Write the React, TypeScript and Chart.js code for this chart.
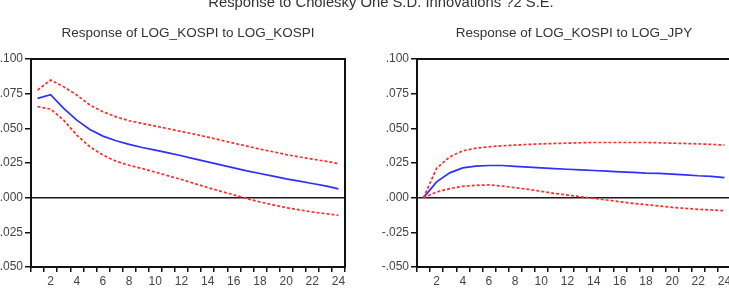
import React, { useEffect, useRef } from "react";
import { Chart, registerables } from "chart.js";

Chart.register(...registerables);

const periods = ["1","2","3","4","5","6","7","8","9","10","11","12","13","14","15","16","17","18","19","20","21","22","23","24"];

const kospiResp = [0.0716,0.0742,0.0644,0.0559,0.0492,0.0444,0.0410,0.0384,0.0362,0.0343,0.0323,0.0302,0.0280,0.0258,0.0237,0.0215,0.0193,0.0174,0.0155,0.0135,0.0119,0.0102,0.0085,0.0063];
const kospiUpper = [0.0776,0.0848,0.0800,0.0740,0.0668,0.0620,0.0583,0.0555,0.0535,0.0516,0.0497,0.0477,0.0458,0.0437,0.0415,0.0393,0.0372,0.0350,0.0331,0.0311,0.0294,0.0278,0.0263,0.0246];
const kospiLower = [0.0656,0.0639,0.0559,0.0451,0.0367,0.0307,0.0263,0.0234,0.0210,0.0184,0.0157,0.0131,0.0102,0.0073,0.0046,0.0020,-0.0007,-0.0031,-0.0052,-0.0072,-0.0088,-0.0103,-0.0115,-0.0127];

const jpyResp = [0.0000,0.0114,0.0179,0.0215,0.0227,0.0232,0.0232,0.0225,0.0220,0.0215,0.0210,0.0205,0.0201,0.0196,0.0191,0.0186,0.0182,0.0177,0.0175,0.0170,0.0165,0.0158,0.0154,0.0145];
const jpyUpper = [0.0000,0.0212,0.0294,0.0338,0.0357,0.0367,0.0374,0.0379,0.0384,0.0388,0.0391,0.0393,0.0396,0.0398,0.0398,0.0398,0.0398,0.0398,0.0396,0.0393,0.0391,0.0388,0.0384,0.0379];
const jpyLower = [0.0000,0.0041,0.0065,0.0082,0.0089,0.0092,0.0084,0.0072,0.0060,0.0046,0.0031,0.0019,0.0007,-0.0005,-0.0017,-0.0029,-0.0041,-0.0050,-0.0060,-0.0070,-0.0077,-0.0084,-0.0089,-0.0094];

const yMin = -0.05;
const yMax = 0.1;
const yStep = 0.025;

const mainTitle = "Response to Cholesky One S.D. Innovations ?2 S.E.";
const leftTitle = "Response of LOG_KOSPI to LOG_KOSPI";
const rightTitle = "Response of LOG_KOSPI to LOG_JPY";

const FONT = "'Liberation Sans', Arial, sans-serif";

const framePlugin = {
  id: "frameAndZero",
  beforeDatasetsDraw(chart: any) {
    const { ctx, chartArea, scales } = chart;
    const y0 = scales.y.getPixelForValue(0);
    ctx.save();
    ctx.strokeStyle = "#1a1a1a";
    ctx.lineWidth = 1.5;
    ctx.beginPath();
    ctx.moveTo(chartArea.left, y0);
    ctx.lineTo(chartArea.right, y0);
    ctx.stroke();
    ctx.restore();
  },
  afterDraw(chart: any) {
    const { ctx, chartArea } = chart;
    ctx.save();
    ctx.strokeStyle = "#111";
    ctx.lineWidth = 2;
    ctx.strokeRect(chartArea.left, chartArea.top, chartArea.right - chartArea.left, chartArea.bottom - chartArea.top);
    ctx.restore();
  },
};

function makeConfig(title: string, resp: number[], upper: number[], lower: number[]): any {
  const red = "#ff2a2a";
  const blue = "#2f2fff";
  return {
    type: "line",
    data: {
      labels: periods,
      datasets: [
        { data: upper, borderColor: red, borderWidth: 1.7, borderDash: [3, 2], pointRadius: 0, tension: 0, fill: false },
        { data: lower, borderColor: red, borderWidth: 1.7, borderDash: [3, 2], pointRadius: 0, tension: 0, fill: false },
        { data: resp, borderColor: blue, borderWidth: 1.7, pointRadius: 0, tension: 0, fill: false },
      ],
    },
    options: {
      responsive: false,
      animation: false,
      devicePixelRatio: 1,
      layout: { padding: { top: 25.4, right: 5, bottom: 0, left: 0 } },
      plugins: {
        legend: { display: false },
        tooltip: { enabled: false },
        title: {
          display: true,
          fullSize: false,
          align: "center",
          text: title,
          color: "#333",
          font: { family: FONT, size: 13.5, weight: "normal", lineHeight: 1.2 },
          padding: { top: 0, bottom: 17.4 },
        },
      },
      scales: {
        x: {
          type: "category",
          offset: true,
          afterFit(scale: any) { scale.height = 30; },
          grid: { display: true, drawOnChartArea: false, offset: true, tickLength: 5, color: "#111", lineWidth: 1.5 },
          border: { display: true, color: "#111", width: 2 },
          ticks: {
            autoSkip: false,
            maxRotation: 0,
            minRotation: 0,
            padding: 2,
            color: "#444",
            font: { family: FONT, size: 12 },
            callback: (_v: any, i: number) => ((i + 1) % 2 === 0 ? periods[i] : ""),
          },
        },
        y: {
          min: yMin,
          max: yMax,
          afterFit(scale: any) { scale.width = 61; },
          grid: { display: true, drawOnChartArea: false, tickLength: 6, color: "#111", lineWidth: 1.5 },
          border: { display: true, color: "#111", width: 2 },
          ticks: {
            stepSize: yStep,
            padding: 2,
            color: "#444",
            font: { family: FONT, size: 12 },
            callback: (v: any) => Number(v).toFixed(3).replace("0.", "."),
          },
        },
      },
    },
    plugins: [framePlugin],
  };
}

function Panel(props: { left: number; title: string; resp: number[]; upper: number[]; lower: number[] }) {
  const ref = useRef<HTMLCanvasElement>(null);
  useEffect(() => {
    if (!ref.current) return;
    const chart = new Chart(ref.current, makeConfig(props.title, props.resp, props.upper, props.lower));
    return () => chart.destroy();
  }, []);
  return (
    <canvas
      ref={ref}
      width={380}
      height={297}
      style={{ position: "absolute", left: props.left, top: 0, width: 380, height: 297 }}
    />
  );
}

export default function App() {
  return (
    <div style={{ position: "absolute", left: 0, top: 0, width: 729, height: 297, overflow: "hidden", background: "#fff" }}>
      <Panel left={-30} title={leftTitle} resp={kospiResp} upper={kospiUpper} lower={kospiLower} />
      <Panel left={356} title={rightTitle} resp={jpyResp} upper={jpyUpper} lower={jpyLower} />
      <div
        style={{
          position: "absolute",
          left: 0,
          top: -6.5,
          width: 762,
          textAlign: "center",
          fontFamily: FONT,
          fontSize: 14.8,
          lineHeight: "16px",
          color: "#333",
          whiteSpace: "nowrap",
        }}
      >
        {mainTitle}
      </div>
    </div>
  );
}
